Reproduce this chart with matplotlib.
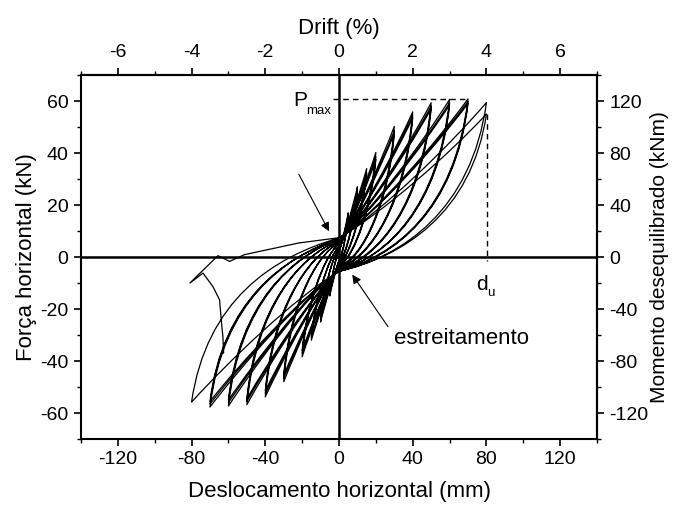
import matplotlib
matplotlib.use("Agg")
import matplotlib.pyplot as plt
from matplotlib.path import Path
from matplotlib.patches import PathPatch
from matplotlib.ticker import MultipleLocator

plt.rcParams["font.family"] = ["Liberation Sans", "DejaVu Sans"]
plt.rcParams["axes.unicode_minus"] = False

# ---------------- data ----------------
# amplitude levels (mm)
levels = [5, 10, 15, 20, 30, 40, 50, 60, 70, 80]
# peak of each cycle, positive direction (mm, kN)
pos_disp = [5, 5, 5, 10, 10, 10, 15, 15, 15, 20, 20, 20, 30, 30, 30, 40, 40, 40,
            50, 50, 50, 60, 60, 60, 70, 70, 70, 80, 80]
pos_force = [17, 16, 15.5, 27, 25.5, 25, 34, 32.5, 32, 40.2, 38.5, 37.5,
             50.2, 48.5, 47.5, 55.8, 54.5, 53.5, 59.3, 58, 57, 60.6, 59.3, 58.5,
             60.8, 59.8, 59, 59.4, 55.0]
# peak of each cycle, negative direction (mm, kN)
neg_disp = [-5, -5, -5, -10, -10, -10, -15, -15, -15, -20, -20, -20, -30, -30, -30,
            -40, -40, -40, -50, -50, -50, -60, -60, -60, -70, -70, -70, -80]
neg_force = [-15, -14, -13.5, -25, -24, -23.5, -32, -31, -30.5, -38.4, -37, -36,
             -48, -46.5, -45.5, -53.8, -52.5, -51.5, -56.8, -55.5, -54.5,
             -57.3, -56, -55, -57.7, -56.5, -55.5, -55.8]
# pinching: force where branches pass d = 0, per level (kN)
pinch_upper = [2, 3, 4, 5, 5.5, 6, 6.5, 7, 7, 7.3]
pinch_lower = [-1.5, -2.5, -3, -3.5, -4, -4.5, -5, -5, -5.5, -5.5]
# displacement where loading branches cross zero force, per level (mm)
cross_pos = [1, 2, 3, 4.5, 7, 9, 11, 13, 15, 17]
cross_neg = [-1, -2, -3, -4.5, -7, -9, -11, -13, -15, -18]
# final failing branch after the last positive peak
tail_disp = [-1.2, -21.8, -51.3, -59.4, -63.0, -65.7, -80.9, -73.8, -68.4, -64.8,
             -63.9, -63.0, -62.6]
tail_force = [7.3, 5.4, 0.9, -1.7, -0.4, 0.5, -10.0, -6.2, -11.4, -16.5, -24.2,
              -30.7, -37.0]

# reference values
p_max = 60.7
p_max_disp = 69.5
d_u = 80.5
d_u_force = 55.0

# ---------------- figure ----------------
fig = plt.figure(figsize=(6.73, 5.09), dpi=100)
ax = fig.add_axes([81 / 673, 1 - 439 / 509, (597 - 81) / 673, (439 - 75) / 509])

# shape styling of the Bezier branches (fractions)
load_c2 = [0.7, 0.65, 0.6, 0.55, 0.45, 0.4, 0.35, 0.32, 0.3, 0.3]

verts = []
codes = []


def curve(p1, p2, p3):
    verts.extend([p1, p2, p3])
    codes.extend([Path.CURVE4] * 3)


lvl_idx = {v: i for i, v in enumerate(levels)}
verts.append((0, 0))
codes.append(Path.MOVETO)
for i in range(len(pos_disp)):
    d, f = pos_disp[i], pos_force[i]
    k = lvl_idx[d]
    hi = pinch_upper[k]
    # loading to the positive peak
    curve((2 * cross_pos[k], 0), (0.9 * d, load_c2[k] * f), (d, f))
    # unloading back to d = 0
    curve((0.75 * d, 0.72 * f), (0.3 * d, hi + 0.18 * f), (0, hi))
    if i < len(neg_disp):
        dn, fn = neg_disp[i], neg_force[i]
        kn = lvl_idx[-dn]
        lo = pinch_lower[kn]
        curve((2 * cross_neg[kn], 0), (0.9 * dn, load_c2[kn] * fn), (dn, fn))
        curve((0.75 * dn, 0.72 * fn), (0.3 * dn, lo + 0.18 * fn), (0, lo))

for x, y in zip(tail_disp, tail_force):
    verts.append((x, y))
    codes.append(Path.LINETO)

ax.add_patch(PathPatch(Path(verts, codes), fill=False, lw=0.9, ec="black",
                       joinstyle="round", capstyle="round", zorder=3))

# zero lines
ax.axhline(0, color="black", lw=1.8, zorder=2)
ax.axvline(0, color="black", lw=1.8, zorder=2)

# dashed guides
ax.plot([-3.5, p_max_disp], [p_max, p_max], color="black", lw=1.0,
        dashes=(4, 3), zorder=2)
ax.plot([d_u, d_u], [d_u_force, -1.5], color="black", lw=1.0, dashes=(4, 3),
        zorder=2)

ax.text(-25.0, 58.0, "P", fontsize=15, ha="left", va="baseline")
ax.text(-17.8, 55.0, "max", fontsize=9.5, ha="left", va="baseline")
ax.text(74.2, -12.6, "d", fontsize=15, ha="left", va="baseline")
ax.text(80.6, -15.0, "u", fontsize=9.5, ha="left", va="baseline")

arrow = dict(arrowstyle="-|>", lw=0.8, color="black", mutation_scale=13,
             shrinkA=0, shrinkB=0)
ax.annotate("", xy=(-5.4, 9.9), xytext=(-21.8, 31.8), arrowprops=arrow)
ax.annotate("", xy=(7.2, -6.8), xytext=(26.6, -26.8), arrowprops=arrow)
ax.text(30.1, -31.2, "estreitamento", fontsize=16, ha="left", va="center")

# axes
ax.set_xlim(-140, 140)
ax.set_ylim(-70, 70)
ax.set_xticks([-120, -80, -40, 0, 40, 80, 120])
ax.set_yticks([-60, -40, -20, 0, 20, 40, 60])
ax.xaxis.set_minor_locator(MultipleLocator(20))
ax.yaxis.set_minor_locator(MultipleLocator(10))
ax.tick_params(which="major", direction="out", length=5, width=1.2,
               labelsize=14, pad=4)
ax.tick_params(which="minor", direction="out", length=3, width=1.0)
for s in ax.spines.values():
    s.set_linewidth(1.5)

ax.set_xlabel("Deslocamento horizontal (mm)", fontsize=16, labelpad=9)
ax.set_ylabel("Força horizontal (kN)", fontsize=16, labelpad=2)

top = ax.secondary_xaxis("top", functions=(lambda x: x / 20.0, lambda p: p * 20.0))
top.set_xticks([-6, -4, -2, 0, 2, 4, 6])
top.xaxis.set_minor_locator(MultipleLocator(1))
top.tick_params(which="major", direction="out", length=5, width=1.2,
                labelsize=14, pad=5)
top.tick_params(which="minor", direction="out", length=3, width=1.0)
top.set_xlabel("Drift (%)", fontsize=16, labelpad=7)
top.spines["top"].set_linewidth(1.5)

right = ax.secondary_yaxis("right", functions=(lambda f: f * 2.0, lambda m: m / 2.0))
right.set_yticks([-120, -80, -40, 0, 40, 80, 120])
right.yaxis.set_minor_locator(MultipleLocator(20))
right.tick_params(which="major", direction="out", length=5, width=1.2,
                  labelsize=14, pad=4)
right.tick_params(which="minor", direction="out", length=3, width=1.0)
right.set_ylabel("Momento desequilibrado (kNm)", fontsize=15, labelpad=1)
right.spines["right"].set_linewidth(1.5)

fig.savefig("out.png", dpi=100)
